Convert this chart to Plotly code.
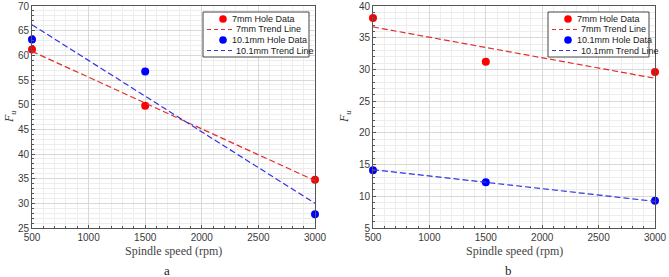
import plotly.graph_objects as go

speed = [500, 1500, 3000]
trend_x = [500, 3000]

# Panel a
a_7mm = [61.2, 49.8, 34.8]
a_7mm_trend = [60.8, 34.6]
a_10mm = [63.2, 56.7, 27.8]
a_10mm_trend = [66.2, 30.0]

# Panel b
b_7mm = [38.1, 31.2, 29.6]
b_7mm_trend = [36.7, 28.6]
b_10mm = [14.1, 12.2, 9.3]
b_10mm_trend = [14.2, 9.2]

x_ticks = [500, 1000, 1500, 2000, 2500, 3000]
a_yticks = [25, 30, 35, 40, 45, 50, 55, 60, 65, 70]
b_yticks = [5, 10, 15, 20, 25, 30, 35, 40]

legend_names = ["7mm Hole Data", "7mm Trend Line", "10.1mm Hole Data", "10.1mm Trend Line"]

RED = "rgb(255,0,0)"
BLUE = "rgb(0,0,255)"
RED_L = "rgb(225,45,45)"
BLUE_L = "rgb(50,50,225)"

W, H = 669, 277
def px(v): return v / W
def py(v): return 1 - v / H

fig = go.Figure()

def add_panel(xa, ya, d7, t7, d10, t10):
    fig.add_trace(go.Scatter(x=speed, y=d7, mode="markers", name=legend_names[0],
                             marker=dict(color=RED, size=8), xaxis=xa, yaxis=ya,
                             cliponaxis=False, showlegend=False))
    fig.add_trace(go.Scatter(x=trend_x, y=t7, mode="lines", name=legend_names[1],
                             line=dict(color=RED_L, dash="6px,3px", width=1.2), xaxis=xa, yaxis=ya,
                             showlegend=False))
    fig.add_trace(go.Scatter(x=speed, y=d10, mode="markers", name=legend_names[2],
                             marker=dict(color=BLUE, size=8), xaxis=xa, yaxis=ya,
                             cliponaxis=False, showlegend=False))
    fig.add_trace(go.Scatter(x=trend_x, y=t10, mode="lines", name=legend_names[3],
                             line=dict(color=BLUE_L, dash="6px,3px", width=1.2), xaxis=xa, yaxis=ya,
                             showlegend=False))

add_panel("x", "y", a_7mm, a_7mm_trend, a_10mm, a_10mm_trend)
add_panel("x2", "y2", b_7mm, b_7mm_trend, b_10mm, b_10mm_trend)

tickfont = dict(family="Liberation Sans, Arial", size=10, color="#3a3a3a")
serif = "Liberation Serif, Times New Roman"

def xaxis_cfg(dom, anchor):
    return dict(domain=dom, range=[500, 3000], tickvals=x_ticks, tickfont=tickfont, anchor=anchor,
                automargin=False,
                showline=True, linecolor="#555", linewidth=1, mirror=True,
                ticks="inside", ticklen=3, tickcolor="#555",
                showgrid=True, gridcolor="#d8d8d8", gridwidth=1, zeroline=False,
                minor=dict(dtick=100, showgrid=True, gridcolor="#ededed", gridwidth=1,
                           ticks="inside", ticklen=2, tickcolor="#555"))

def yaxis_cfg(dom, rng, tv, anchor):
    return dict(domain=dom, range=rng, tickvals=tv, tickfont=tickfont, anchor=anchor,
                automargin=False,
                showline=True, linecolor="#555", linewidth=1, mirror=True,
                ticks="inside", ticklen=3, tickcolor="#555",
                showgrid=True, gridcolor="#d8d8d8", gridwidth=1, zeroline=False,
                minor=dict(dtick=1, showgrid=True, gridcolor="#ededed", gridwidth=1,
                           ticks="inside", ticklen=2, tickcolor="#555"))

ydom = [py(228), py(6)]

shapes = []
annotations = []

def add_legend(x0, w):
    shapes.append(dict(type="rect", xref="paper", yref="paper",
                       x0=px(x0), x1=px(x0 + w), y0=py(57), y1=py(12),
                       line=dict(color="#444", width=1), fillcolor="white", layer="above"))
    rows = [19, 29.5, 40, 50.5]
    colors = [RED, RED_L, BLUE, BLUE_L]
    for i, (name, yy, c) in enumerate(zip(legend_names, rows, colors)):
        if i % 2 == 0:
            r = 3.8
            cx = x0 + 20
            shapes.append(dict(type="circle", xref="paper", yref="paper",
                               x0=px(cx - r), x1=px(cx + r), y0=py(yy + r), y1=py(yy - r),
                               fillcolor=c, line=dict(color=c, width=0), layer="above"))
            tx = x0 + 27
        else:
            shapes.append(dict(type="line", xref="paper", yref="paper",
                               x0=px(x0 + 4), x1=px(x0 + 30), y0=py(yy), y1=py(yy),
                               line=dict(color=c, width=1.2, dash="4px,3px"), layer="above"))
            tx = x0 + 31
        annotations.append(dict(text=name, x=px(tx), y=py(yy), xref="paper", yref="paper",
                                xanchor="left", yanchor="middle", showarrow=False,
                                font=dict(family="Liberation Sans, Arial", size=9, color="#222")))

add_legend(203, 106)
add_legend(548, 101)

for cx in [173.5, 514]:
    annotations.append(dict(text="Spindle speed (rpm)", x=px(cx), y=py(251), xref="paper", yref="paper",
                            xanchor="center", yanchor="middle", showarrow=False,
                            font=dict(family=serif, size=12, color="#444")))
for cx, lab in [(167, "a"), (508, "b")]:
    annotations.append(dict(text=lab, x=px(cx), y=py(270), xref="paper", yref="paper",
                            xanchor="center", yanchor="middle", showarrow=False,
                            font=dict(family=serif, size=13, color="#222")))
for cx in [10, 345]:
    annotations.append(dict(text="<i>F<sub>u</sub></i>", x=px(cx), y=py(117), xref="paper", yref="paper",
                            xanchor="center", yanchor="middle", showarrow=False, textangle=-90,
                            font=dict(family=serif, size=12, color="#333")))

fig.update_layout(
    width=W, height=H, margin=dict(l=0, r=0, t=0, b=0),
    paper_bgcolor="white", plot_bgcolor="white",
    xaxis=xaxis_cfg([px(32), px(315)], "y"),
    yaxis=yaxis_cfg(ydom, [25, 70], a_yticks, "x"),
    xaxis2=xaxis_cfg([px(373), px(655)], "y2"),
    yaxis2=yaxis_cfg(ydom, [5, 40], b_yticks, "x2"),
    showlegend=False,
    shapes=shapes,
    annotations=annotations,
)

fig.write_html("out.html")
